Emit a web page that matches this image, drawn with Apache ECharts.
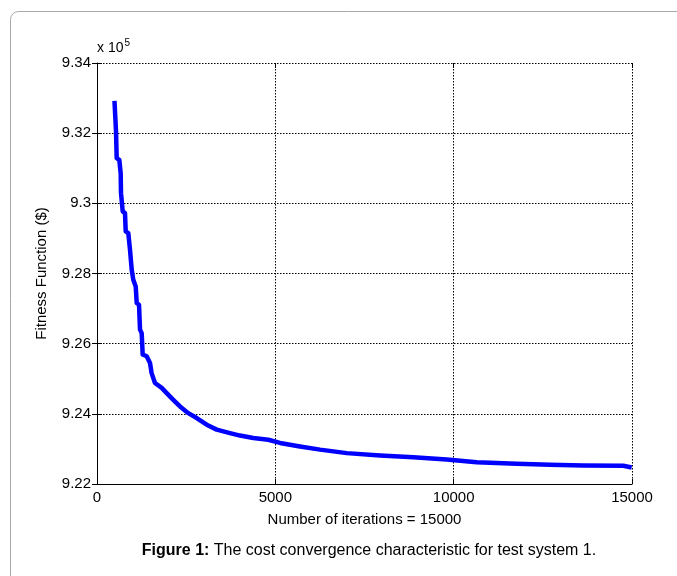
<!DOCTYPE html>
<html>
<head>
<meta charset="utf-8">
<script src="https://cdn.jsdelivr.net/npm/echarts@6/dist/echarts.min.js"></script>
<style>
html,body{margin:0;padding:0;background:#fff;}
#chart{width:677px;height:576px;}
</style>
</head>
<body>
<div id="chart"></div>
<script>
// Iteration numbers and fitness values
var iterations = [490, 533, 552, 625, 664, 673, 721, 785, 805, 878, 925, 973, 1018, 1085, 1113, 1178, 1206, 1253, 1281, 1393, 1486, 1531, 1626, 1814, 1954, 2139, 2327, 2560, 2795, 3076, 3356, 3729, 4009, 4382, 4803, 5131, 5692, 6252, 7001, 7935, 8868, 9805, 10646, 11767, 12701, 13634, 14756, 14991];
var fitness = [932920, 932050, 931290, 931240, 930860, 930290, 929770, 929720, 929200, 929150, 928680, 928110, 927820, 927630, 927160, 927110, 926400, 926300, 925690, 925640, 925450, 925160, 924880, 924740, 924590, 924400, 924210, 924020, 923880, 923690, 923550, 923450, 923380, 923310, 923260, 923170, 923070, 922980, 922880, 922810, 922760, 922700, 922620, 922580, 922550, 922530, 922520, 922470];
var xTicks = [0, 5000, 10000, 15000];
var yTicks = [922000, 924000, 926000, 928000, 930000, 932000, 934000];
var xTitle = 'Number of iterations = 15000';
var yTitle = 'Fitness Function ($)';
var captionBold = 'Figure 1:';
var captionText = ' The cost convergence characteristic for test system 1.';

var FONT = 'Liberation Sans, Arial, Helvetica, sans-serif';
var chart = echarts.init(document.getElementById('chart'), null, {renderer: 'canvas'});
var points = iterations.map(function (x, i) { return [x, fitness[i]]; });

var gridLine = {show: true, lineStyle: {color: '#000', type: [1.5, 1.5], width: 1}};

chart.setOption({
  animation: false,
  backgroundColor: '#fff',
  grid: {left: 97, right: 45, top: 63, bottom: 92, containLabel: false},
  graphic: [
    {type: 'rect', shape: {x: 10.5, y: 11.5, width: 900, height: 900, r: 8}, style: {fill: 'none', stroke: '#a8a8a8', lineWidth: 1}, z: -10},
    {type: 'text', left: 97, top: 38, style: {text: '{a|x 10}{s|5}', rich: {a: {fontSize: 14, fontFamily: FONT, fill: '#000'}, s: {fontSize: 10, fontFamily: FONT, fill: '#000', verticalAlign: 'top', padding: [0, 0, 10, 1]}}}},
    {type: 'text', x: 369, y: 551, style: {text: '{b|' + captionBold + '}{r|' + captionText + '}', align: 'center', verticalAlign: 'middle', rich: {b: {fontWeight: 'bold', fontSize: 16, fontFamily: FONT, fill: '#000'}, r: {fontSize: 16, fontFamily: FONT, fill: '#000'}}}}
  ],
  xAxis: [{
    type: 'value', min: xTicks[0], max: xTicks[xTicks.length - 1], interval: 5000,
    name: xTitle, nameLocation: 'middle', nameGap: 28,
    nameTextStyle: {fontSize: 15, fontFamily: FONT, color: '#000'},
    axisLine: {show: true, onZero: false, lineStyle: {color: '#000', width: 1}},
    axisTick: {show: true, inside: true, length: 5, lineStyle: {color: '#000'}},
    axisLabel: {fontSize: 15, fontFamily: FONT, color: '#000', margin: 6,
      formatter: function (v) { return String(v); }},
    splitLine: gridLine
  }, {
    type: 'value', position: 'top', min: xTicks[0], max: xTicks[xTicks.length - 1], interval: 5000,
    axisLine: {show: false},
    axisTick: {show: true, inside: true, length: 5, lineStyle: {color: '#000'}},
    axisLabel: {show: false}, splitLine: {show: false}
  }],
  yAxis: [{
    type: 'value', min: yTicks[0], max: yTicks[yTicks.length - 1], interval: 2000,
    name: yTitle, nameLocation: 'middle', nameGap: 48,
    nameTextStyle: {fontSize: 15, fontFamily: FONT, color: '#000'},
    axisLine: {show: true, onZero: false, lineStyle: {color: '#000', width: 1}},
    axisTick: {show: true, inside: true, length: 5, lineStyle: {color: '#000'}},
    axisLabel: {fontSize: 15, fontFamily: FONT, color: '#000', margin: 6,
      formatter: function (v) { return String(parseFloat((v / 1e5).toFixed(2))); }},
    splitLine: gridLine
  }, {
    type: 'value', position: 'right', min: yTicks[0], max: yTicks[yTicks.length - 1], interval: 2000,
    axisLine: {show: false},
    axisTick: {show: true, inside: true, length: 5, lineStyle: {color: '#000'}},
    axisLabel: {show: false}, splitLine: {show: false}
  }],
  series: [{
    type: 'line', data: points, xAxisIndex: 0, yAxisIndex: 0,
    showSymbol: false, symbol: 'none',
    lineStyle: {color: '#0000ff', width: 4.5, join: 'round'},
    z: 5
  }]
});
</script>
</body>
</html>
